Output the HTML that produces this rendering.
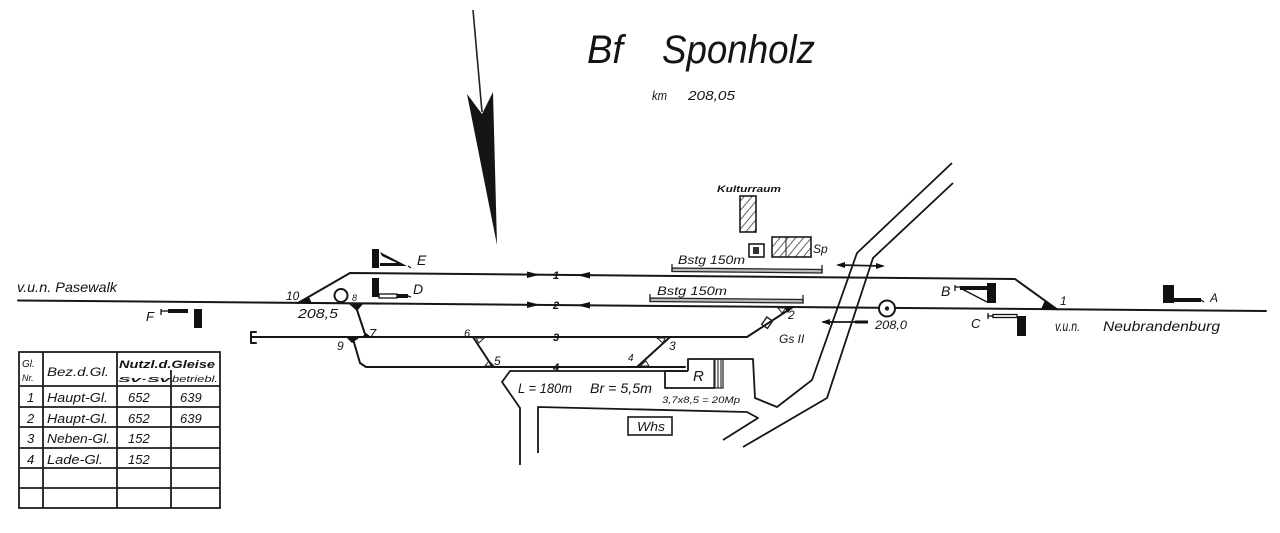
<!DOCTYPE html>
<html><head><meta charset="utf-8"><style>
html,body{margin:0;padding:0;background:#fff;}
svg{display:block;}
text{font-family:"Liberation Sans",sans-serif;font-style:italic;fill:#141414;}
</style></head><body>
<svg width="1280" height="533" viewBox="0 0 1280 533" xmlns="http://www.w3.org/2000/svg">
<defs>
<pattern id="hatch" patternUnits="userSpaceOnUse" width="6" height="6" patternTransform="rotate(40)"><line x1="0" y1="0" x2="0" y2="6" stroke="#222" stroke-width="1.4"/></pattern>
<pattern id="vh" patternUnits="userSpaceOnUse" width="3" height="3"><line x1="1" y1="0" x2="1" y2="3" stroke="#333" stroke-width="1.2"/></pattern>
</defs>

<!-- North arrow -->
<line x1="473" y1="10" x2="482" y2="112" stroke="#222" stroke-width="1.6"/>
<polygon points="467,94 482,114 493,92 497,245" fill="#151515"/>

<!-- Title -->
<text x="587" y="63" font-size="40" textLength="36" lengthAdjust="spacingAndGlyphs">Bf</text>
<text x="662" y="63" font-size="40" textLength="153" lengthAdjust="spacingAndGlyphs">Sponholz</text>
<text x="652" y="100" font-size="13" textLength="15" lengthAdjust="spacingAndGlyphs">km</text>
<text x="688" y="100" font-size="13" textLength="47" lengthAdjust="spacingAndGlyphs">208,05</text>

<!-- Buildings -->
<text x="717" y="192" font-size="9" font-weight="bold" textLength="64" lengthAdjust="spacingAndGlyphs">Kulturraum</text>
<rect x="740" y="196" width="16" height="36" fill="url(#hatch)" stroke="#1a1a1a" stroke-width="1.6"/>
<rect x="749" y="244" width="15" height="13" fill="#fff" stroke="#1a1a1a" stroke-width="1.6"/>
<rect x="753" y="247" width="6" height="7" fill="#333"/>
<rect x="772" y="237" width="39" height="20" fill="url(#hatch)" stroke="#1a1a1a" stroke-width="1.6"/>
<line x1="786" y1="237" x2="786" y2="257" stroke="#1a1a1a" stroke-width="1"/>
<text x="813" y="253" font-size="12">Sp</text>

<!-- Tracks -->
<g stroke="#161616" stroke-width="2" fill="none" stroke-linecap="round" stroke-linejoin="round">
 <line x1="18" y1="300.5" x2="1266" y2="311"/>
 <polyline points="298,303 350,273 1015,279 1057,309.3"/>
 <polyline points="252,337 747,337 793,307"/>
 <polyline points="256,332 251,332 251,343 256,343"/>
 <line x1="355" y1="304" x2="366" y2="337"/>
 <polyline points="353,339 360,363 366,367 685,367"/>
 <line x1="473" y1="337" x2="492" y2="366"/>
 <line x1="670" y1="337" x2="637" y2="367"/>
</g>

<!-- Platforms -->
<g stroke="#222" stroke-width="1.3" fill="#bbb">
 <polygon points="672,268 822,269.5 822,273 672,271.5"/>
 <polygon points="650,298 803,299.5 803,303 650,301.5"/>
</g>
<g stroke="#222" stroke-width="1.3">
 <line x1="672" y1="264" x2="672" y2="272"/><line x1="822" y1="265" x2="822" y2="273"/>
 <line x1="650" y1="294" x2="650" y2="302"/><line x1="803" y1="295" x2="803" y2="303"/>
</g>
<text x="678" y="264" font-size="12" textLength="67" lengthAdjust="spacingAndGlyphs">Bstg  150m</text>
<text x="657" y="295" font-size="12" textLength="70" lengthAdjust="spacingAndGlyphs">Bstg  150m</text>

<!-- Direction arrows and track numbers -->
<g fill="#111">
 <polygon points="527,271.5 540,274.7 527,278"/>
 <polygon points="590,272 577,275.1 590,278.5"/>
 <polygon points="527,301.5 540,304.8 527,308"/>
 <polygon points="590,302 577,305.3 590,308.5"/>
</g>
<g font-size="11" font-weight="bold" text-anchor="middle">
 <text x="556" y="279">1</text>
 <text x="556" y="309">2</text>
 <text x="556" y="341">3</text>
 <text x="556" y="371">4</text>
</g>

<!-- Switch markers -->
<g fill="#111">
 <polygon points="296,303.5 312,303.5 309,297"/>
 <polygon points="349,304 363,304 357,311"/>
 <polygon points="347,338 359,338 352,343"/>
 <polygon points="362,337 371,337 366,333"/>
 <polygon points="1041,309.5 1058,309.5 1045,300"/>
 <polygon points="784,307 792,307 788,313"/>
</g>
<g fill="none" stroke="#222" stroke-width="1">
 <polygon points="476,338 484,338 479,343"/>
 <polygon points="485,366 494,366 489,361"/>
 <polygon points="657,338 665,338 663,343"/>
 <polygon points="640,366 649,366 646,361"/>
 <polygon points="778,308 786,308 782,313"/>
</g>
<rect x="764" y="318" width="7" height="9" fill="none" stroke="#222" stroke-width="1.4" transform="rotate(35 767 322)"/>

<!-- Track labels -->
<g font-size="12">
 <text x="286" y="300" font-size="12">10</text>
 <text x="298" y="318" font-size="13" textLength="40" lengthAdjust="spacingAndGlyphs">208,5</text>
 <text x="352" y="301" font-size="9">8</text>
 <text x="369" y="338" font-size="13">7</text>
 <text x="337" y="350">9</text>
 <text x="464" y="337" font-size="11">6</text>
 <text x="494" y="365">5</text>
 <text x="628" y="361" font-size="10">4</text>
 <text x="669" y="350">3</text>
 <text x="788" y="319">2</text>
 <text x="779" y="343">Gs II</text>
 <text x="1060" y="305">1</text>
</g>

<!-- km markers -->
<circle cx="341" cy="295.5" r="6.5" fill="#fff" stroke="#161616" stroke-width="2"/>
<circle cx="887" cy="308.5" r="8" fill="#fff" stroke="#161616" stroke-width="2"/>
<circle cx="887" cy="308.5" r="2.2" fill="#222"/>
<text x="875" y="329" font-size="12" textLength="32" lengthAdjust="spacingAndGlyphs">208,0</text>

<!-- Road -->
<g stroke="#161616" stroke-width="1.8" fill="none" stroke-linejoin="round">
 <polyline points="952,163 857,253 812,380 777,407 755,398 753,359 688,359 688,371"/>
 <polyline points="953,183 873,258 827,398 743,447"/>
 <polyline points="538,453 538,407 747,412 758,418 723,440"/>
 <polyline points="688,371 510,371 502,382 520,408 520,465"/>
 <polyline points="688,371 665,371 665,388 715,388"/>
 <line x1="838" y1="265" x2="883" y2="266"/>
 <line x1="823" y1="322" x2="868" y2="322"/>
</g>
<g fill="#111">
 <polygon points="836,265 845,262 845,268"/>
 <polygon points="885,266 876,263 876,269"/>
 <polygon points="821,322 830,319 830,325"/>
 <rect x="855" y="320.5" width="13" height="3"/>
</g>
<rect x="714" y="359" width="9" height="29" fill="url(#vh)" stroke="#222" stroke-width="1.2"/>
<text x="693" y="381" font-size="15">R</text>
<text x="662" y="403" font-size="9" textLength="78" lengthAdjust="spacingAndGlyphs">3,7x8,5 = 20Mp</text>
<text x="518" y="393" font-size="14" textLength="54" lengthAdjust="spacingAndGlyphs">L = 180m</text>
<text x="590" y="393" font-size="14" textLength="62" lengthAdjust="spacingAndGlyphs">Br = 5,5m</text>
<rect x="628" y="417" width="44" height="18" fill="none" stroke="#1a1a1a" stroke-width="1.6"/>
<text x="637" y="431" font-size="13" textLength="28" lengthAdjust="spacingAndGlyphs">Whs</text>

<!-- Signals -->
<g fill="#111">
 <!-- E -->
 <rect x="372" y="249" width="7" height="19"/>
 <polygon points="380,252 407,266 380,266 380,263 397,263 382,256" />
 <!-- D -->
 <rect x="372" y="278" width="7" height="19"/>
 <rect x="397" y="294" width="11" height="4"/>
 <!-- F -->
 <rect x="168" y="309" width="20" height="4"/>
 <rect x="194" y="309" width="8" height="19"/>
 <!-- B -->
 <rect x="960" y="286" width="27" height="4"/>
 <rect x="987" y="283" width="9" height="20"/>
 <!-- C -->
 <rect x="1017" y="316" width="9" height="20"/>
 <!-- A -->
 <rect x="1163" y="285" width="11" height="18"/>
 <rect x="1174" y="298" width="27" height="4"/>
</g>
<g stroke="#111" stroke-width="1.3" fill="none">
 <rect x="379" y="294" width="18" height="4"/>
 <line x1="408" y1="266" x2="411" y2="268"/>
 <line x1="408" y1="296" x2="411" y2="297"/>
 <line x1="161" y1="311" x2="168" y2="311"/><line x1="161" y1="309" x2="161" y2="315"/>
 <line x1="960" y1="288" x2="987" y2="302"/>
 <line x1="955" y1="287" x2="960" y2="287"/><line x1="955" y1="285" x2="955" y2="291"/>
 <rect x="993" y="314.5" width="24" height="3"/>
 <line x1="988" y1="316" x2="993" y2="316"/><line x1="988" y1="313" x2="988" y2="319"/>
 <line x1="1201" y1="300" x2="1204" y2="302"/>
</g>
<g font-size="14">
 <text x="417" y="265">E</text>
 <text x="413" y="294">D</text>
 <text x="146" y="321" font-size="13">F</text>
 <text x="941" y="296">B</text>
 <text x="971" y="328" font-size="13">C</text>
 <text x="1210" y="302" font-size="12">A</text>
</g>

<!-- Direction names -->
<text x="17" y="292" font-size="14" textLength="100" lengthAdjust="spacingAndGlyphs">v.u.n. Pasewalk</text>
<text x="1055" y="331" font-size="14" textLength="25" lengthAdjust="spacingAndGlyphs">v.u.n.</text>
<text x="1103" y="331" font-size="14" textLength="117" lengthAdjust="spacingAndGlyphs">Neubrandenburg</text>

<!-- Table -->
<g stroke="#1e1e1e" stroke-width="1.8" fill="none">
 <rect x="19" y="352" width="201" height="156"/>
 <line x1="43" y1="352" x2="43" y2="508"/>
 <line x1="117" y1="352" x2="117" y2="508"/>
 <line x1="171" y1="370" x2="171" y2="508"/>
 <line x1="19" y1="386" x2="220" y2="386"/>
 <line x1="19" y1="407" x2="220" y2="407"/>
 <line x1="19" y1="427" x2="220" y2="427"/>
 <line x1="19" y1="448" x2="220" y2="448"/>
 <line x1="19" y1="468" x2="220" y2="468"/>
 <line x1="19" y1="488" x2="220" y2="488"/>
</g>
<g font-size="10">
 <text x="22" y="367">Gl.</text>
 <text x="22" y="381" font-size="9">Nr.</text>
 <text x="47" y="376" font-size="12" textLength="62" lengthAdjust="spacingAndGlyphs">Bez.d.Gl.</text>
 <text x="119" y="368" font-size="11" font-weight="bold" textLength="96" lengthAdjust="spacingAndGlyphs">Nutzl.d.Gleise</text>
 <text x="118" y="382" font-size="7" font-weight="bold" textLength="52" lengthAdjust="spacingAndGlyphs">Sv·Sv</text>
 <text x="172" y="382" font-size="9" textLength="46" lengthAdjust="spacingAndGlyphs">betriebl.</text>
</g>
<g font-size="13">
 <text x="27" y="402">1</text><text x="47" y="402" textLength="61" lengthAdjust="spacingAndGlyphs">Haupt-Gl.</text><text x="128" y="402">652</text><text x="180" y="402">639</text>
 <text x="27" y="423">2</text><text x="47" y="423" textLength="61" lengthAdjust="spacingAndGlyphs">Haupt-Gl.</text><text x="128" y="423">652</text><text x="180" y="423">639</text>
 <text x="27" y="443">3</text><text x="47" y="443" textLength="63" lengthAdjust="spacingAndGlyphs">Neben-Gl.</text><text x="128" y="443">152</text>
 <text x="27" y="464">4</text><text x="47" y="464" textLength="56" lengthAdjust="spacingAndGlyphs">Lade-Gl.</text><text x="128" y="464">152</text>
</g>
</svg>
</body></html>
